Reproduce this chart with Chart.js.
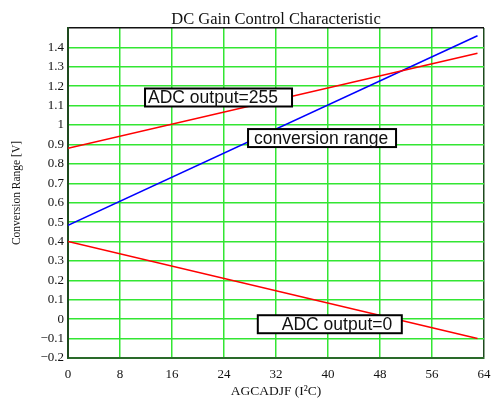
<!DOCTYPE html>
<html>
<head>
<meta charset="utf-8">
<script src="https://cdn.jsdelivr.net/npm/chart.js@4/dist/chart.umd.min.js"></script>
<style>
  body { margin: 0; background: #fff; }
  #wrap { width: 494px; height: 400px; }
</style>
</head>
<body>
<div id="wrap"><canvas id="gainChart"></canvas></div>
<script>
// AGCADJF setting at the ends of each line
const agcSteps = [0, 63];
// conversion range limits [V]
const adcOut255 = [0.88, 1.37];
const convRange = [0.483, 1.46];
const adcOut0 = [0.40, -0.10];

const xTicks = [0, 8, 16, 24, 32, 40, 48, 56, 64];

const chartTitle = 'DC Gain Control Characteristic';
const green = '#33e633';
const serif = '"Liberation Serif", "Times New Roman", serif';

// text boxes on the plot (x,y in data units = left edge / vertical centre)
const noteBoxes = [
  { text: 'ADC output=255', x: 11.85, y: 1.142, w: 147, h: 18, pad: 3 },
  { text: 'conversion range', x: 27.7, y: 0.933, w: 148, h: 18, pad: 6 },
  { text: 'ADC output=0', x: 29.2, y: -0.026, w: 144, h: 18, pad: 24 }
];

const toPts = ys => agcSteps.map((x, i) => ({ x: x, y: ys[i] }));

// title centred over the plot area, plus the boxed notes
const notesPlugin = {
  id: 'notes',
  afterDatasetsDraw(chart) {
    const ctx = chart.ctx;
    const area = chart.chartArea;
    const xs = chart.scales.x, ys = chart.scales.y;
    ctx.save();
    ctx.fillStyle = '#111';
    ctx.font = '16.5px ' + serif;
    ctx.textAlign = 'center';
    ctx.textBaseline = 'middle';
    ctx.fillText(chartTitle, (area.left + area.right) / 2, 20);

    noteBoxes.forEach(b => {
      const left = xs.getPixelForValue(b.x);
      const cy = ys.getPixelForValue(b.y);
      ctx.fillStyle = '#fff';
      ctx.fillRect(left, cy - b.h / 2, b.w, b.h);
      ctx.lineWidth = 2;
      ctx.strokeStyle = '#000';
      ctx.strokeRect(left, cy - b.h / 2, b.w, b.h);
      ctx.fillStyle = '#111';
      ctx.font = '17.5px "Liberation Sans", Arial, sans-serif';
      ctx.textBaseline = 'middle';
      ctx.textAlign = 'left';
      ctx.fillText(b.text, left + b.pad, cy + 1);
    });
    ctx.restore();
  }
};

new Chart(document.getElementById('gainChart'), {
  type: 'line',
  data: {
    datasets: [
      { label: 'ADC output=255', data: toPts(adcOut255), borderColor: '#ff0000', borderWidth: 1.5, pointRadius: 0, fill: false },
      { label: 'conversion range', data: toPts(convRange), borderColor: '#0000ff', borderWidth: 1.5, pointRadius: 0, fill: false },
      { label: 'ADC output=0', data: toPts(adcOut0), borderColor: '#ff0000', borderWidth: 1.5, pointRadius: 0, fill: false }
    ]
  },
  options: {
    responsive: true,
    maintainAspectRatio: false,
    animation: false,
    layout: { padding: { left: 0, right: 10, top: 28, bottom: 0 } },
    plugins: {
      legend: { display: false },
      tooltip: { enabled: false },
      title: { display: false }
    },
    scales: {
      x: {
        type: 'linear',
        min: 0,
        max: 64,
        afterBuildTicks: s => { s.ticks = xTicks.map(v => ({ value: v })); },
        afterFit: s => { s.height = 42; s.paddingLeft = 0; s.paddingRight = 0; },
        ticks: { color: '#111', font: { family: serif, size: 13 }, padding: 9, maxRotation: 0 },
        grid: {
          drawTicks: false,
          lineWidth: 1.5,
          color: c => c.tick && c.tick.value === 64 ? '#1e4a1e' : green
        },
        border: { display: true, color: '#2a6a2a', width: 2 },
        title: {
          display: true,
          text: 'AGCADJF (I²C)',
          color: '#111',
          font: { family: serif, size: 13.5 },
          padding: { top: 2, bottom: 0 }
        }
      },
      y: {
        min: -0.2,
        max: 1.5,
        afterFit: s => { s.width = 68; s.paddingTop = 0; s.paddingBottom = 0; },
        ticks: {
          stepSize: 0.1,
          color: '#111',
          font: { family: serif, size: 13 },
          padding: 4,
          callback: v => {
            if (v > 1.45) return '';
            return String(Number(v.toFixed(1))).replace('-', '\u2212');
          }
        },
        grid: {
          drawTicks: false,
          lineWidth: 1.5,
          color: c => c.tick && c.tick.value > 1.45 ? '#111' : green
        },
        border: { display: true, color: '#1e4a1e', width: 2 },
        title: {
          display: true,
          text: 'Conversion Range [V]',
          color: '#111',
          font: { family: serif, size: 11.5 },
          padding: { top: 10, bottom: 4 }
        }
      }
    }
  },
  plugins: [notesPlugin]
});
</script>
</body>
</html>
